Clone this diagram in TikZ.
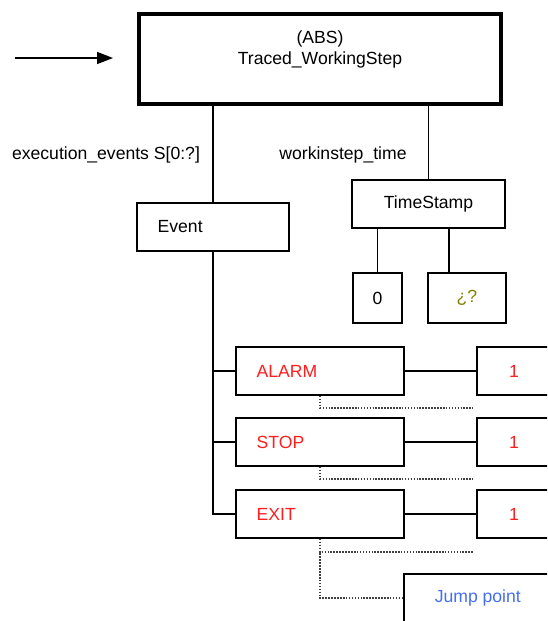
\documentclass[tikz,border=0pt]{standalone}
\usepackage{fontspec}
\setmainfont{Liberation Sans}
\usetikzlibrary{arrows.meta}
\definecolor{evred}{RGB}{255,30,30}
\definecolor{qolive}{RGB}{130,130,0}
\definecolor{jumpblue}{RGB}{70,110,240}
\begin{document}
\begin{tikzpicture}[x=0.75pt,y=-0.75pt]
\tikzset{txt/.style = {font=\fontsize{13.2}{15.75}\selectfont}}
\tikzset{cell/.style = {txt,draw,line width=1.2pt,minimum height=36pt,inner sep=0pt}}
\tikzset{entry/.style = {cell,align=left,text width=#1,inner xsep=15.5pt}}
\tikzset{mainbox/.style = {draw,line width=3pt,minimum width=271.5pt,minimum height=67.5pt}}
\tikzset{conn/.style = {line width=1.2pt}}
\tikzset{dotline/.style = {densely dotted,line width=1.2pt,black!75}}
\useasboundingbox (0,0) rectangle (547,621);
\clip (0,0) rectangle (547,621);
% entity on top
\node[mainbox] (ws) at (320,59) {};
\node[txt,align=center] (wstitle) at (320,49) {(ABS)\\Traced\_WorkingStep};
\coordinate (entry) at (15,58);
\draw[conn,-{Triangle[length=12pt,width=9pt]}] (entry) -- ([xshift=-18pt]ws.west |- entry);
% attributes
\node[txt] (evlabel) at (106,155) {execution\_events S[0:?]};
\node[txt] (tslabel) at (343,155) {workinstep\_time};
\node[entry=83pt] (ev) at (213,227) {Event};
\node[cell,minimum width=114.75pt] (ts) at (428.5,204) {TimeStamp};
\node[cell,minimum width=36.75pt,minimum height=37.5pt] (zero) at (377.5,298) {0};
\node[cell,minimum width=58.5pt,minimum height=37.5pt,text=qolive] (qm) at (467,298) {¿?};
\draw[conn] (ws.south -| ev.north) -- (ev.north);
\draw[conn] (ws.south -| ts.north) -- (ts.north);
\draw[conn] (zero.north |- ts.south) -- (zero.north);
\draw[conn] ([xshift=-13.5pt]qm.north |- ts.south) -- ([xshift=-13.5pt]qm.north);
% event types
\node[entry=95pt,text=evred] (alarm) at (320,371) {ALARM};
\node[entry=95pt,text=evred] (stop) at (320,442) {STOP};
\node[entry=95pt,text=evred] (exit) at (320,514) {EXIT};
\node[cell,anchor=west,minimum width=56pt,text=evred] (one1) at (476,371) {1};
\node[cell,anchor=west,minimum width=56pt,text=evred] (one2) at (476,442) {1};
\node[cell,anchor=west,minimum width=56pt,text=evred] (one3) at (476,514) {1};
\node[cell,anchor=west,minimum width=111pt,text=jumpblue] (jump) at (403,598) {Jump point};
\draw[conn] (ev.south) |- (alarm.west);
\draw[conn] (ev.south) |- (stop.west);
\draw[conn] (ev.south) |- (exit.west);
\draw[conn] (alarm) -- (one1);
\draw[conn] (stop) -- (one2);
\draw[conn] (exit) -- (one3);
% dotted links
\draw[dotline] (alarm.south) |- ([xshift=-2pt,yshift=-9pt]one1.south west);
\draw[dotline] (stop.south) |- ([xshift=-2pt,yshift=-9pt]one2.south west);
\draw[dotline] (exit.south) |- ([xshift=-2pt,yshift=-9.75pt]one3.south west);
\draw[dotline] (exit.south) |- (jump.west);
\end{tikzpicture}
\end{document}
